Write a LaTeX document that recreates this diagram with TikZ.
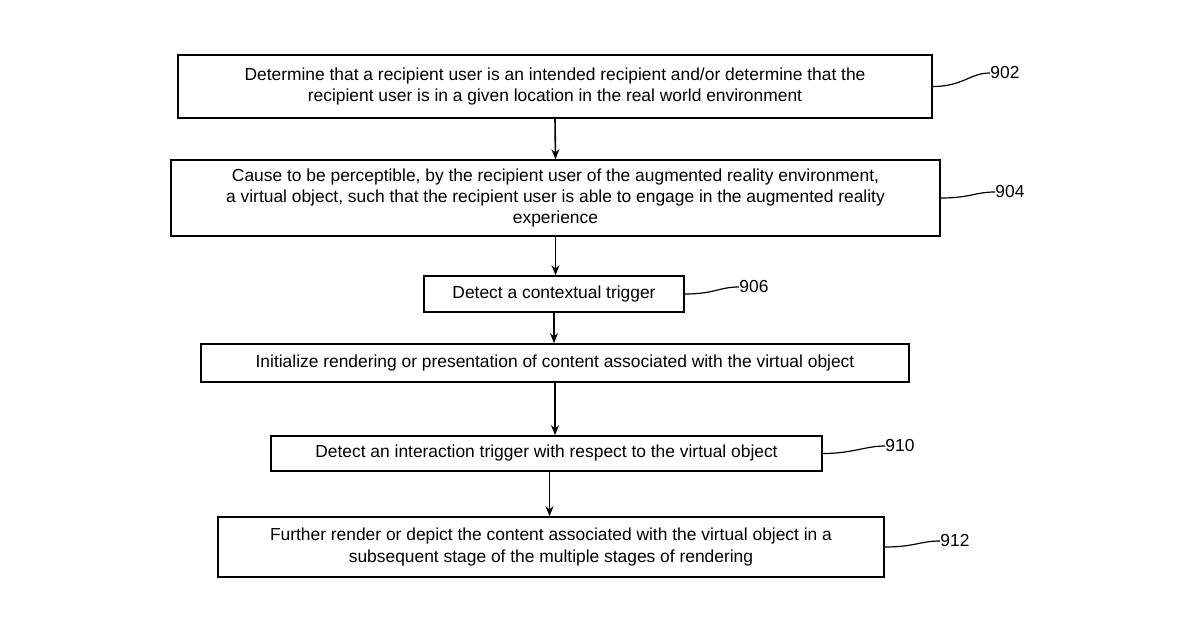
\documentclass[tikz,border=0pt]{standalone}
\usepackage{fontspec}
\setmainfont{Liberation Sans}
\usetikzlibrary{arrows.meta,positioning}
\begin{document}
\begin{tikzpicture}[x=0.5pt,y=-0.5pt,
			every node/.style={
				align=center,		% line breaks with "\\"
				font=\fontsize{8.7}{10.6}\selectfont,
				inner sep=0pt
			},
			stepbox/.style={rectangle,draw=black,line width=0.8pt},
			ref/.style={anchor=west},
			flow/.style={-{Stealth[length=5pt,width=4pt]},line width=0.8pt},
			lead/.style={line width=0.6pt}
		]
		\useasboundingbox (0,0) rectangle (1200,630);
		\node[stepbox,minimum width=377pt,minimum height=31.5pt](S902) at (555,86.5)
			{Determine that a recipient user is an intended recipient and/or determine that the\\ recipient user is in a given location in the real world environment};
		\node[stepbox,minimum width=384.5pt,minimum height=38pt](S904) at (555.5,198)
			{Cause to be perceptible, by the recipient user of the augmented reality environment,\\ a virtual object, such that the recipient user is able to engage in the augmented reality\\ experience};
		\node[stepbox,minimum width=130pt,minimum height=18pt](S906) at (554,294)
			{Detect a contextual trigger};
		\node[stepbox,minimum width=354pt,minimum height=19pt](S908) at (555,363)
			{Initialize rendering or presentation of content associated with the virtual object};
		\node[stepbox,minimum width=275.5pt,minimum height=17.5pt](S910) at (546.5,453.5)
			{Detect an interaction trigger with respect to the virtual object};
		\node[stepbox,minimum width=333pt,minimum height=30pt](S912) at (551,547)
			{Further render or depict the content associated with the virtual object in a\\ subsequent stage of the multiple stages of rendering};
		% reference numerals
		\node[ref](L902) at (990,73) {902};
		\node[ref](L904) at (995,192) {904};
		\node[ref](L906) at (739,287) {906};
		\node[ref](L910) at (885,446) {910};
		\node[ref](L912) at (940,541) {912};
		\foreach \s in {902,904,906,910,912}
			\draw[lead] (S\s.east) .. controls +(30,0) and +(-20,0) .. (L\s.west);
		% flow
		\draw[flow] (S902.south) -- (S904.north);
		\draw[flow] (S904.south) -- (S906.north -| S904.south);
		\draw[flow] (S906.south) -- (S908.north -| S906.south);
		\draw[flow] (S908.south) -- (S910.north -| S908.south);
		\draw[flow] ([xshift=1.5pt]S910.south) -- ([xshift=1.5pt]S910.south |- S912.north);
	\end{tikzpicture}
\end{document}
